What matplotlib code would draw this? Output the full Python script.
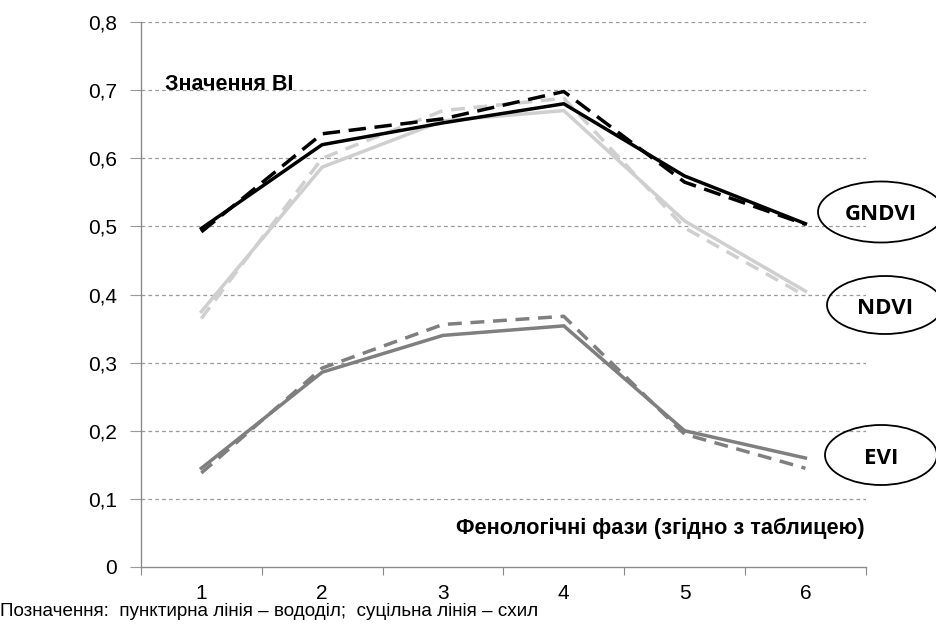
import matplotlib.pyplot as plt
from matplotlib.patches import Ellipse

plt.rcParams['font.family'] = ['Liberation Sans', 'DejaVu Sans']

phases = [1, 2, 3, 4, 5, 6]

# схил (суцільна) / вододіл (пунктирна)
gndvi_slope = [0.497, 0.620, 0.652, 0.680, 0.574, 0.504]
gndvi_divide = [0.492, 0.636, 0.658, 0.698, 0.565, 0.503]
ndvi_slope = [0.375, 0.587, 0.655, 0.670, 0.508, 0.405]
ndvi_divide = [0.365, 0.600, 0.670, 0.688, 0.498, 0.398]
evi_slope = [0.145, 0.286, 0.340, 0.354, 0.200, 0.160]
evi_divide = [0.138, 0.292, 0.356, 0.368, 0.195, 0.145]

yticks = [0, 0.1, 0.2, 0.3, 0.4, 0.5, 0.6, 0.7, 0.8]
ytick_labels = ['0', '0,1', '0,2', '0,3', '0,4', '0,5', '0,6', '0,7', '0,8']

fig = plt.figure(figsize=(9.36, 6.3), dpi=100)
ax = fig.add_axes([0.1506, 0.1, 0.7744, 0.865])

grid_kw = dict(color='#9a9a9a', lw=0.9, ls=(0, (3, 2.5)))
for y in yticks[1:]:
    ax.axhline(y, zorder=0, **grid_kw)

# лінії
ax.plot(phases, ndvi_slope, color='#cfcfcf', lw=2.5, solid_joinstyle='miter')
ax.plot(phases, ndvi_divide, color='#cfcfcf', lw=2.5, ls=(0, (4, 2.5)))
ax.plot(phases, evi_slope, color='#7f7f7f', lw=2.5, solid_joinstyle='miter')
ax.plot(phases, evi_divide, color='#7f7f7f', lw=2.5, ls=(0, (4, 2.5)))
ax.plot(phases, gndvi_slope, color='black', lw=2.5, solid_joinstyle='miter')
ax.plot(phases, gndvi_divide, color='black', lw=2.5, ls=(0, (5, 2.5)))

ax.set_xlim(0.5, 6.5)
ax.set_ylim(0, 0.8)
ax.set_yticks(yticks)
ax.set_yticklabels(ytick_labels, fontsize=15)
ax.set_xticks([0.5 + i for i in range(7)])
ax.set_xticklabels([])
ax.set_xticks(phases, minor=True)
ax.set_xticklabels([str(p) for p in phases], minor=True, fontsize=15)
ax.tick_params(axis='x', which='major', length=6, color='#8a8a8a', direction='out')
ax.tick_params(axis='x', which='minor', length=0, pad=12)
ax.tick_params(axis='y', length=8, color='#9a9a9a', pad=9)

for s in ['top', 'right']:
    ax.spines[s].set_visible(False)
for s in ['left', 'bottom']:
    ax.spines[s].set_color('#8a8a8a')
    ax.spines[s].set_linewidth(1.0)

ax.text(0.033, 0.885, 'Значення ВІ', transform=ax.transAxes, fontsize=15.5,
        fontweight='bold', ha='left', va='center')
ax.text(0.998, 0.07, 'Фенологічні фази (згідно з таблицею)', transform=ax.transAxes,
        fontsize=15.7, fontweight='bold', ha='right', va='center')

fig.text(0.0, 0.03, 'Позначення:  пунктирна лінія – вододіл;  суцільна лінія – схил',
         fontsize=13.6, ha='left', va='center')

# овали з назвами індексів (в пікселях від верхнього лівого кута)
labels = ['GNDVI', 'NDVI', 'EVI']
centers = [(881, 212), (885, 305), (881, 455)]
widths = [126, 116, 112]
heights = [61, 58, 60]
for lab, (cx, cy), w, h in zip(labels, centers, widths, heights):
    e = Ellipse((cx / 100, (630 - cy) / 100), w / 100, h / 100,
                transform=fig.dpi_scale_trans, fill=False, ec='black', lw=1.3,
                clip_on=False)
    fig.add_artist(e)
    fig.text(cx / 936, 1 - (cy + 3) / 630, lab, fontsize=16, fontweight='bold',
             family=['Open Sans', 'DejaVu Sans'], ha='center', va='center')

fig.savefig('out.png', dpi=100)
